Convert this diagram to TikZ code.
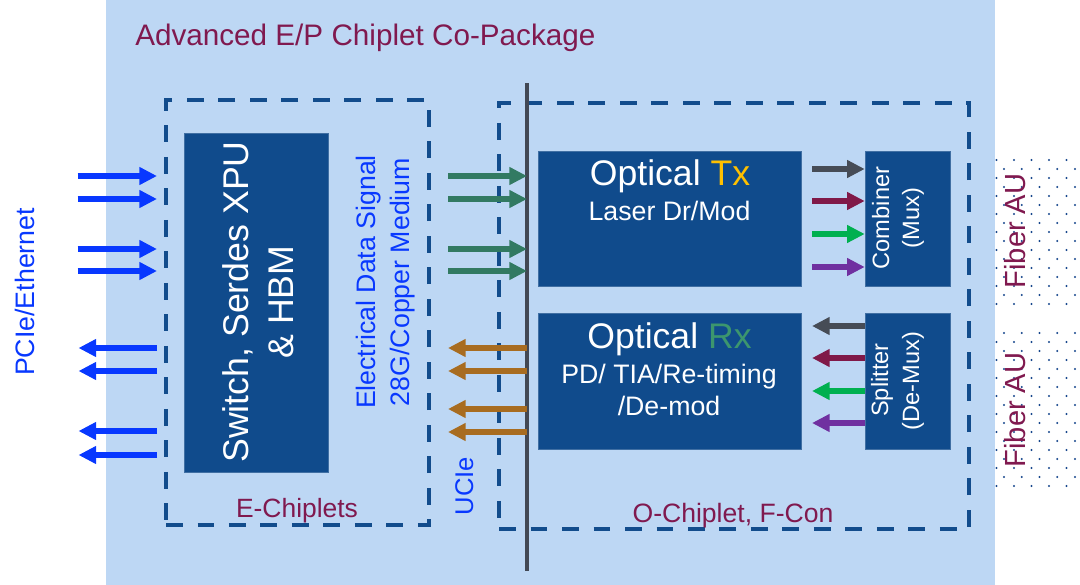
\documentclass[tikz,border=0pt]{standalone}
\usepackage{fontspec}
\setmainfont{Liberation Sans}
\usetikzlibrary{arrows.meta,fit,calc}
\definecolor{bgblue}{RGB}{189,215,244}
\definecolor{boxblue}{RGB}{16,75,140}
\definecolor{dashblue}{RGB}{18,76,140}
\definecolor{maroon}{RGB}{128,25,79}
\definecolor{brightblue}{RGB}{8,56,255}
\definecolor{teal}{RGB}{50,122,98}
\definecolor{brown}{RGB}{168,108,32}
\definecolor{agray}{RGB}{70,76,86}
\definecolor{amaroon}{RGB}{128,25,72}
\definecolor{agreen}{RGB}{0,176,80}
\definecolor{apurple}{RGB}{112,48,160}
\definecolor{txyellow}{RGB}{255,192,0}
\definecolor{rxgreen}{RGB}{60,150,110}
\definecolor{linegray}{RGB}{66,72,84}
\definecolor{dotblue}{RGB}{22,70,140}
\newcommand\myfs[1]{\fontsize{#1}{#1}\selectfont}
\begin{document}
\begin{tikzpicture}[x=0.025cm,y=-0.025cm,
  box/.style={fill=boxblue, draw=boxblue!80!white, line width=0.4pt, inner sep=0pt},
  dbox/.style={draw=dashblue, line width=2.83pt, dash pattern=on 12pt off 10.4pt, inner sep=0pt},
  txt/.style={inner sep=0pt, anchor=base},
  vtxt/.style={inner sep=0pt, anchor=base, rotate=90},
  arr/.style={line width=4pt, -{Triangle[length=12.5pt,width=12pt]}},
  dot/.style={fill=dotblue}
]
\useasboundingbox (0,0) rectangle (1080,585);
\node[fill=bgblue, inner sep=0pt, fit={(106,0) (995,585)}] (pkg) {};
\node[txt, anchor=base west, text=maroon] (title) at (135,45) {\myfs{21.1}Advanced E/P Chiplet Co-Package};

% dashed chiplet boxes
\node[dbox, fit={(166,100) (429,525)}] (ebox) {};
\node[dbox, fit={(499,103) (969,529)}] (obox) {};

% UCIe line
\coordinate (ucitop) at (527,83);
\coordinate (ucibot) at (527,571);
\draw[linegray, line width=2.9pt] (ucitop) -- (ucibot);

% solid boxes
\node[box, fit={(184,133) (328,472)}] (sw) {};
\node[box, fit={(538,151) (801,286)}] (tx) {};
\node[box, fit={(538,313) (801,449)}] (rx) {};
\node[box, fit={(865,151) (950,286)}] (comb) {};
\node[box, fit={(865,313) (950,449)}] (split) {};

% texts
\node[vtxt, text=white] (sw1) at (248,302) {\myfs{25.4}Switch, Serdes XPU};
\node[vtxt, text=white] (sw2) at (293,302) {\myfs{25.4}\& HBM};
\node[vtxt, text=brightblue] (pcie) at (34,292) {\myfs{19}PCIe/Ethernet};
\node[vtxt, text=brightblue] (el1) at (375,282) {\myfs{19}Electrical Data Signal};
\node[vtxt, text=brightblue] (el2) at (409,282) {\myfs{19}28G/Copper Medium};
\node[vtxt, text=brightblue] (ucie) at (473,486) {\myfs{18.2}UCIe};
\node[txt, text=maroon] (elab) at (297,517) {\myfs{18.8}E-Chiplets};
\node[txt, text=maroon] (olab) at (733,522) {\myfs{18.9}O-Chiplet, F-Con};
\node[txt, text=white] (tx1) at (670,185) {\myfs{25.3}Optical \textcolor{txyellow}{Tx}};
\node[txt, text=white] (tx2) at (669.5,220) {\myfs{19}Laser Dr/Mod};
\node[txt, text=white] (rx1) at (669.5,348) {\myfs{25.3}Optical \textcolor{rxgreen}{Rx}};
\node[txt, text=white] (rx2) at (669,383) {\myfs{19}PD/ TIA/Re-timing};
\node[txt, text=white] (rx3) at (669,415) {\myfs{19}/De-mod};
\node[vtxt, text=white] (cb1) at (889,218) {\myfs{16.8}Combiner};
\node[vtxt, text=white] (cb2) at (919,218) {\myfs{16.8}(Mux)};
\node[vtxt, text=white] (sp1) at (888,380) {\myfs{16.8}Splitter};
\node[vtxt, text=white] (sp2) at (919,381) {\myfs{16.8}(De-Mux)};

% fiber AU dotted areas
\foreach \k in {0,...,16}{
  \pgfmathsetmacro{\yy}{160+9*\k}
  \ifodd\k
    \foreach \j in {0,...,4}{\fill[dot] ({1004+17.75*\j},\yy) circle (0.85pt);}
  \else
    \foreach \j in {0,...,4}{\fill[dot] ({996.5+17.5*\j},\yy) circle (0.85pt);}
  \fi
}
\foreach \k in {0,...,17}{
  \pgfmathsetmacro{\yy}{333+9*\k}
  \ifodd\k
    \foreach \j in {0,...,4}{\fill[dot] ({996.5+17.5*\j},\yy) circle (0.85pt);}
  \else
    \foreach \j in {0,...,4}{\fill[dot] ({1004+17.75*\j},\yy) circle (0.85pt);}
  \fi
}
\node[vtxt, text=maroon] (fau1) at (1025,231) {\myfs{20.7}Fiber AU};
\node[vtxt, text=maroon] (fau2) at (1025,410) {\myfs{20.7}Fiber AU};

% blue I/O arrows
\foreach \y [count=\i] in {176,199,249,271}{
  \coordinate (bi\i) at (77.5,\y);
  \coordinate (bie\i) at (157,\y);
  \draw[arr, brightblue] (bi\i) -- (bie\i);
}
\foreach \y [count=\i] in {348,371,431,455}{
  \coordinate (bo\i) at (157,\y);
  \coordinate (boe\i) at (78.5,\y);
  \draw[arr, brightblue] (bo\i) -- (boe\i);
}
% UCIe arrows
\foreach \y [count=\i] in {176,199,249,271}{
  \coordinate (gi\i) at (448,\y);
  \draw[arr, teal] (gi\i) -- (gi\i -| ucitop);
}
\foreach \y [count=\i] in {348,371,409,432}{
  \coordinate (bri\i) at (448,\y);
  \draw[arr, brown] (bri\i -| ucitop) -- (bri\i);
}
% Tx -> combiner
\foreach \y/\c [count=\i] in {169/agray,201/amaroon,234/agreen,267/apurple}{
  \coordinate (ta\i) at (812,\y);
  \draw[arr, \c] (ta\i) -- (ta\i -| comb.west);
}
% splitter -> Rx
\foreach \y/\c [count=\i] in {326/agray,358/amaroon,391/agreen,423/apurple}{
  \coordinate (ra\i) at (812,\y);
  \draw[arr, \c] (ra\i -| split.west) -- (ra\i);
}
\end{tikzpicture}
\end{document}
